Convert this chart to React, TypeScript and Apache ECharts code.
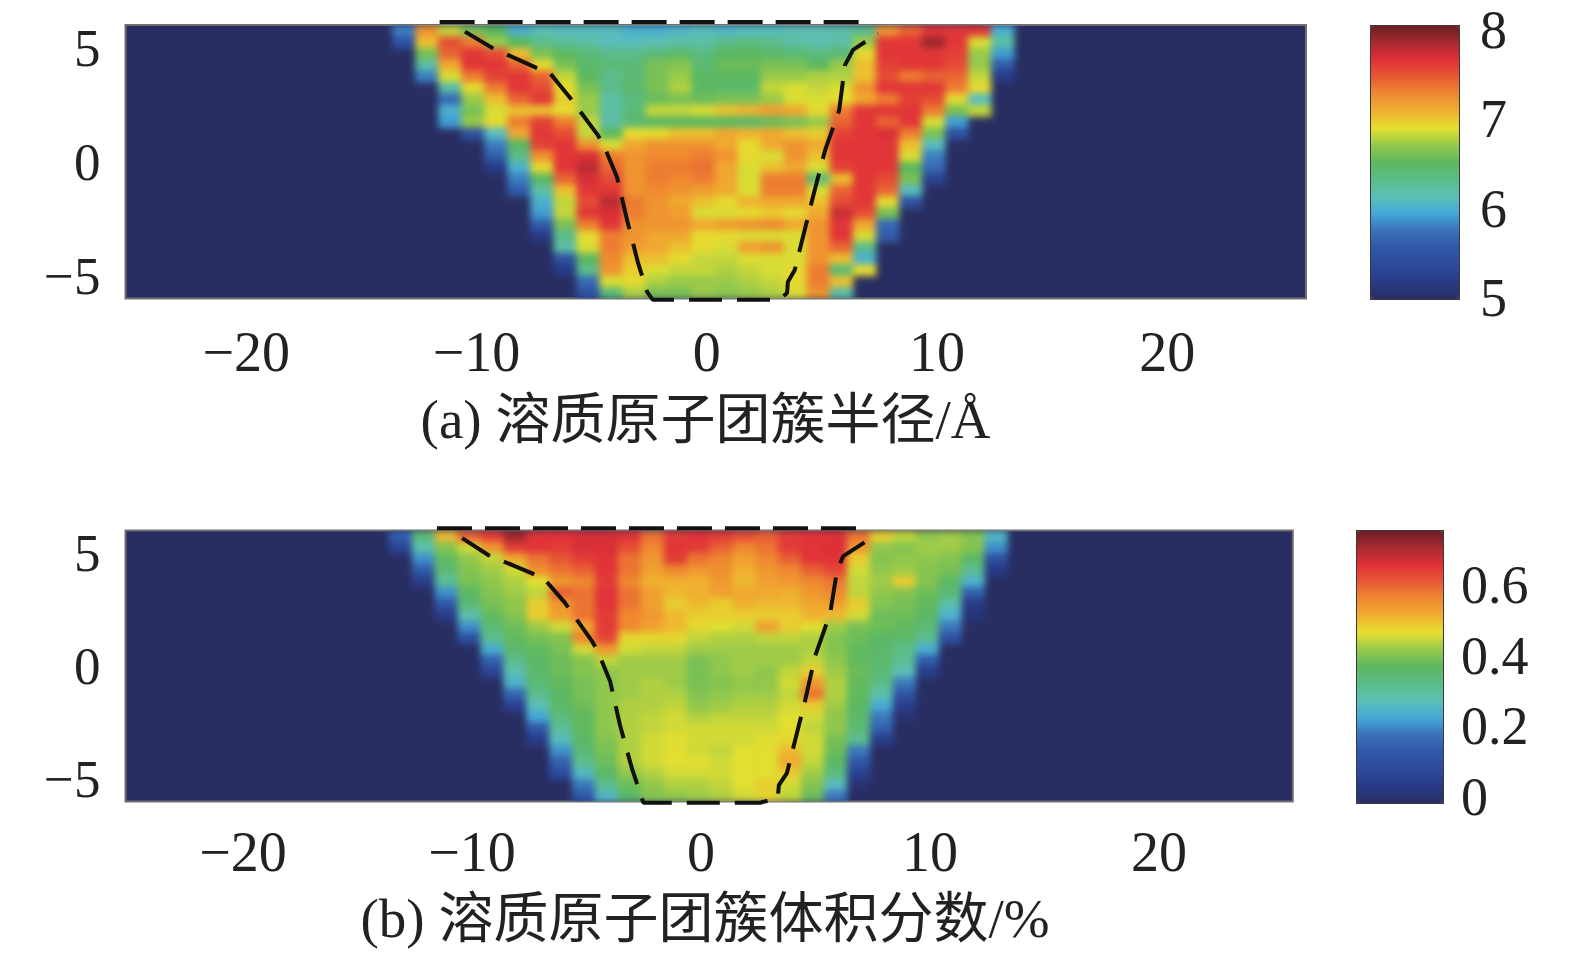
import React, { useEffect, useRef } from "react";
import * as echarts from "echarts";

// Each "left" row ends at x = -1, each "right" row starts at x = 0; rows run from y = 5.75 down to y = -5.75 in 0.5 steps.
const radiusLeft = [
  [5.8,7.2,6.8,6.6,6.5,6.0,6.15,6.1,6.1,6.1,6.0,6.0,6.05],
  [5.5,7.0,7.5,7.3,6.7,6.5,6.3,6.25,6.2,6.1,6.1,6.15,6.2],
  [6.6,7.4,7.6,7.5,7.0,6.6,6.5,6.4,6.3,6.3,6.4,6.45],
  [6.2,7.1,7.6,7.6,7.4,6.9,6.6,6.45,6.4,6.4,6.6,6.65],
  [5.8,6.85,7.3,7.55,7.6,7.4,6.8,6.5,6.3,6.4,6.6,6.7],
  [6.2,6.9,7.3,7.6,7.5,6.9,6.6,6.3,6.45,6.6,6.75],
  [5.7,6.7,7.0,7.4,7.6,6.95,6.7,6.2,6.35,6.55,6.6],
  [6.0,6.6,6.85,7.0,7.0,6.9,6.7,6.2,6.4,6.8,6.8],
  [5.9,6.7,6.9,7.3,7.55,7.3,6.8,6.2,6.4,6.5,6.5],
  [5.5,6.1,7.1,7.6,7.5,6.8,6.5,6.9,6.9,7.0],
  [5.8,6.5,7.55,7.6,7.2,6.85,7.1,7.2,7.2],
  [5.6,6.3,7.2,7.6,7.65,7.3,7.2,7.25,7.25],
  [5.2,6.0,6.9,7.6,7.75,7.4,7.2,7.3,7.3],
  [5.8,6.5,7.4,7.65,7.5,7.2,7.3,7.25],
  [5.6,6.2,7.0,7.6,7.6,7.2,7.25,7.2],
  [6.0,6.8,7.5,7.75,7.3,7.2,7.1],
  [5.9,6.8,7.6,7.65,7.3,7.2,7.15],
  [5.6,6.6,7.3,7.6,7.2,7.2,7.2],
  [5.2,6.3,6.9,7.3,7.2,7.1,7.1],
  [6.2,6.85,7.3,7.15,7.1,7.0],
  [5.5,6.5,7.25,7.0,7.0,6.9],
  [5.2,6.3,7.2,6.95,6.85,6.8],
  [5.7,6.85,6.9,6.75,6.7],
  [5.5,6.4,6.75,6.6,6.6],
];
const radiusRight = [
  [6.1,6.05,6.1,6.1,6.15,6.15,6.2,6.3,7.2,7.4,7.6,7.6,7.6,6.0],
  [6.2,6.3,6.35,6.3,6.2,6.15,6.2,6.7,7.6,7.6,7.85,7.6,6.85,6.2],
  [6.35,6.5,6.5,6.45,6.4,6.35,6.4,6.9,7.6,7.6,7.6,7.55,6.7,5.9],
  [6.4,6.55,6.55,6.6,6.6,6.5,6.7,7.0,7.55,7.6,7.6,7.5,6.7,5.6],
  [6.5,6.5,6.5,6.7,6.7,6.75,6.75,7.0,7.5,7.3,7.4,7.4,6.8,5.2],
  [6.5,6.45,6.45,6.8,6.85,6.8,6.85,7.2,7.6,7.6,7.6,7.3,6.9],
  [6.55,6.6,6.6,6.7,6.85,6.85,6.9,7.1,7.3,7.55,7.5,6.9,6.1],
  [6.85,7.0,7.05,7.15,7.1,6.9,7.3,7.6,7.6,7.6,7.3,6.6,6.8],
  [6.5,6.5,6.45,6.55,6.6,6.7,7.4,7.6,7.4,7.6,6.85,5.9],
  [7.0,7.1,7.05,7.1,7.0,6.95,7.55,7.6,7.65,7.3,6.6,5.5],
  [7.2,7.1,6.9,7.1,7.2,7.1,7.6,7.6,7.6,7.0,6.1],
  [7.3,7.2,6.9,6.85,7.2,7.0,7.6,7.6,7.6,6.85,5.8],
  [7.35,7.1,6.85,7.0,7.1,6.85,7.55,7.6,7.6,6.5,5.7],
  [7.3,7.1,6.85,7.3,7.3,6.4,7.0,7.6,7.5,6.6,5.3],
  [7.15,7.1,6.85,7.3,7.3,6.85,7.4,7.6,7.4,6.1],
  [7.0,6.9,7.05,7.1,7.1,7.0,7.5,7.6,6.9,5.5],
  [6.85,6.85,6.9,6.95,6.9,7.1,7.7,7.5,6.6],
  [7.1,7.15,7.2,7.25,7.1,7.2,7.6,7.1,5.7],
  [6.9,6.9,6.85,6.85,6.85,7.2,7.6,6.85,5.6],
  [6.9,6.85,7.15,7.2,6.85,7.2,7.4,6.3],
  [6.8,6.8,6.85,6.85,6.85,7.2,7.0,6.0],
  [6.8,6.75,6.8,6.85,6.9,7.3,6.4,6.9],
  [6.7,6.7,6.75,6.8,6.9,7.3,7.0],
  [6.7,6.65,6.7,6.75,6.85,7.2,6.2],
];
const fractionLeft = [
  [0.16,0.36,0.52,0.62,0.66,0.73,0.67,0.67,0.68,0.68,0.67,0.6,0.66],
  [0.08,0.3,0.42,0.47,0.56,0.66,0.67,0.66,0.68,0.68,0.64,0.58,0.67],
  [0.22,0.39,0.43,0.46,0.54,0.6,0.63,0.66,0.67,0.6,0.56,0.66],
  [0.15,0.36,0.42,0.44,0.47,0.57,0.6,0.62,0.67,0.6,0.55,0.58],
  [0.06,0.32,0.41,0.43,0.45,0.48,0.56,0.58,0.66,0.58,0.53,0.53],
  [0.22,0.38,0.42,0.44,0.46,0.62,0.6,0.67,0.6,0.55,0.52],
  [0.14,0.36,0.41,0.43,0.5,0.56,0.6,0.67,0.6,0.55,0.5],
  [0.06,0.3,0.39,0.42,0.5,0.55,0.6,0.66,0.58,0.56,0.52],
  [0.22,0.36,0.4,0.44,0.47,0.54,0.66,0.58,0.55,0.52],
  [0.12,0.33,0.39,0.41,0.42,0.58,0.65,0.49,0.49,0.49],
  [0.25,0.37,0.39,0.41,0.47,0.56,0.47,0.46,0.46],
  [0.16,0.33,0.38,0.4,0.42,0.46,0.44,0.44,0.44],
  [0.08,0.3,0.37,0.4,0.42,0.43,0.44,0.44,0.44],
  [0.26,0.36,0.39,0.41,0.43,0.44,0.45,0.44],
  [0.17,0.33,0.38,0.41,0.43,0.44,0.45,0.45],
  [0.07,0.29,0.37,0.4,0.43,0.45,0.45,0.46],
  [0.24,0.35,0.39,0.43,0.45,0.46,0.47],
  [0.14,0.32,0.39,0.43,0.45,0.46,0.47],
  [0.06,0.28,0.38,0.42,0.45,0.47,0.48],
  [0.22,0.36,0.41,0.45,0.47,0.48],
  [0.16,0.33,0.4,0.45,0.47,0.48],
  [0.1,0.27,0.38,0.43,0.45,0.47],
  [0.2,0.33,0.4,0.43,0.45],
  [0.14,0.27,0.37,0.42,0.43],
];
const fractionRight = [
  [0.67,0.66,0.64,0.62,0.66,0.67,0.67,0.6,0.5,0.46,0.43,0.44,0.42,0.27],
  [0.66,0.62,0.58,0.6,0.66,0.67,0.68,0.56,0.43,0.42,0.44,0.44,0.42,0.22],
  [0.6,0.58,0.55,0.58,0.62,0.67,0.67,0.5,0.42,0.43,0.43,0.42,0.38,0.12],
  [0.56,0.57,0.53,0.56,0.58,0.62,0.65,0.47,0.43,0.44,0.42,0.41,0.33,0.05],
  [0.53,0.56,0.52,0.55,0.56,0.58,0.6,0.46,0.44,0.5,0.42,0.38,0.26],
  [0.53,0.55,0.54,0.54,0.53,0.56,0.58,0.46,0.43,0.42,0.4,0.36,0.16],
  [0.52,0.5,0.53,0.52,0.52,0.54,0.55,0.5,0.42,0.41,0.39,0.3,0.05],
  [0.5,0.5,0.5,0.5,0.5,0.53,0.52,0.47,0.4,0.4,0.38,0.26,0.03],
  [0.49,0.48,0.47,0.55,0.5,0.48,0.44,0.41,0.4,0.39,0.36,0.2],
  [0.46,0.45,0.45,0.46,0.46,0.45,0.42,0.4,0.38,0.37,0.33,0.12],
  [0.44,0.44,0.44,0.44,0.44,0.45,0.42,0.39,0.37,0.34,0.25],
  [0.41,0.43,0.44,0.44,0.44,0.46,0.43,0.39,0.37,0.33,0.15],
  [0.41,0.43,0.44,0.43,0.46,0.5,0.44,0.4,0.36,0.29,0.06],
  [0.41,0.42,0.43,0.43,0.47,0.56,0.45,0.39,0.34,0.2],
  [0.42,0.43,0.44,0.44,0.46,0.6,0.45,0.39,0.3,0.13],
  [0.43,0.44,0.45,0.45,0.47,0.5,0.44,0.38,0.25,0.06],
  [0.45,0.46,0.46,0.46,0.48,0.47,0.43,0.37,0.2,0.02],
  [0.47,0.47,0.47,0.47,0.48,0.46,0.43,0.36,0.16],
  [0.47,0.47,0.47,0.48,0.49,0.47,0.41,0.33,0.06],
  [0.47,0.46,0.48,0.48,0.52,0.47,0.4,0.2],
  [0.48,0.47,0.48,0.48,0.54,0.46,0.38,0.14],
  [0.47,0.47,0.48,0.48,0.5,0.44,0.35,0.07],
  [0.45,0.46,0.48,0.5,0.47,0.42,0.28,0.02],
  [0.44,0.45,0.47,0.49,0.46,0.4,0.2],
];

const radiusContour = [[-10.5,5.71],[-9.31,4.99],[-7.37,4.11],[-6.82,3.9],[-5.93,2.8],[-4.73,1.17],[-4.44,0.64],[-3.9,-0.67],[-3.44,-2.64],[-2.98,-4.45],[-2.59,-5.71],[-2.35,-6.05],[3.18,-6.05],[3.49,-5.75],[3.52,-5.28],[3.82,-4.75],[4.61,-1.55],[5.14,0.51],[5.75,2.26],[6.0,4.24],[6.35,4.91],[7.44,5.63]];
const radiusTop = [[-11.6,6.13],[7.0,6.13]];
const fractionContour = [[-10.43,5.66],[-9.29,4.91],[-7.4,4.11],[-6.8,3.8],[-5.93,2.78],[-4.76,1.1],[-4.51,0.66],[-3.97,-0.67],[-3.54,-2.61],[-3.02,-4.52],[-2.52,-6.05],[2.58,-6.05],[3.35,-5.84],[3.4,-5.27],[3.75,-4.74],[4.55,-1.51],[4.98,0.43],[5.64,2.33],[5.94,4.23],[6.21,4.86],[7.39,5.63]];
const fractionTop = [[-11.53,6.1],[6.94,6.1]];

const xTicks = [-20, -10, 0, 10, 20];
const yTicks = [-5, 0, 5];
const radiusBarTicks = [5, 6, 7, 8];
const fractionBarTicks = [0, 0.2, 0.4, 0.6];
const titleA = "(a) 溶质原子团簇半径/Å";
const titleB = "(b) 溶质原子团簇体积分数/%";
const jet = ["#292e62","#283a86","#2d4a9c","#3058a8","#3a70b8","#44a8d8","#5cc0b8","#5cbc88","#5cb860","#94c84c","#e4e030","#f0b030","#ef8a30","#e85a34","#e03038","#a82a30","#6a1e24"];

const FONT = '"Liberation Serif","Noto Sans CJK SC",serif';
const INK = "#222222";

function cells(left: number[][], right: number[][], shift: number) {
  const out: number[][] = [];
  left.forEach((row, r) => {
    const y = 5.75 - r * 0.5;
    row.forEach((v, i) => out.push([i - row.length + shift, y, v]));
    right[r].forEach((v, i) => out.push([i + shift, y, v]));
  });
  return out;
}
const minus = (v: number) => String(v).replace("-", "\u2212");

function renderCell(_: any, api: any) {
  const x = api.value(0), y = api.value(1);
  const p = api.coord([x - 0.5, y + 0.25]);
  const q = api.coord([x + 0.5, y - 0.25]);
  return { type: "rect", shape: { x: p[0], y: p[1], width: q[0] - p[0] + 0.6, height: q[1] - p[1] + 0.6 }, style: { fill: api.visual("color") } };
}

function panel(gridIndex: number, data: number[][], contour: number[][], top: number[][]) {
  const line = (d: number[][], dash: number[]) => ({
    type: "line", xAxisIndex: gridIndex, yAxisIndex: gridIndex, data: d, symbol: "none", clip: false, z: 5,
    lineStyle: { color: "#111", width: 4, type: dash },
  });
  return [
    { type: "custom", xAxisIndex: gridIndex, yAxisIndex: gridIndex, data, renderItem: renderCell, encode: { x: 0, y: 1 }, clip: true, silent: true },
    line(contour, [33, 15]),
    line(top, [35, 13]),
  ];
}

const axisLabel = (customValues: number[], margin: number, fontSize: number) => ({
  customValues, margin, fontSize, lineHeight: fontSize, fontFamily: FONT, color: INK, formatter: (v: number) => minus(v), showMinLabel: true, showMaxLabel: true,
});
const xAxis = (gridIndex: number, min: number, max: number, margin: number) => ({
  type: "value", gridIndex, min, max, splitLine: { show: false }, axisLine: { show: false }, axisTick: { show: false },
  axisLabel: axisLabel(xTicks, margin, 56),
});
const yAxis = (gridIndex: number) => ({
  type: "value", gridIndex, min: -6, max: 6, splitLine: { show: false }, axisLine: { show: false }, axisTick: { show: false },
  axisLabel: axisLabel(yTicks, 25, 53),
});
const barX = (gridIndex: number) => ({ type: "value", gridIndex, min: 0, max: 1, show: false });
const barY = (gridIndex: number, min: number, max: number, ticks: number[], margin: number) => ({
  type: "value", gridIndex, min, max, position: "right", splitLine: { show: false }, axisLine: { show: false }, axisTick: { show: false },
  axisLabel: axisLabel(ticks, margin, 54),
});
const bar = (seriesIndex: number, min: number, max: number, left: number, top: number, w: number, h: number) => ({
  type: "continuous", seriesIndex, dimension: 2, min, max, left, top, itemWidth: w, itemHeight: h, padding: 0,
  inRange: { color: jet }, calculable: false, showLabel: false, hoverLink: false, borderColor: "#3a3a3a", borderWidth: 2,
});
const gridStyle = { show: true, backgroundColor: "#292e62", borderColor: "#6f6f6f", borderWidth: 2 };
const titleStyle = { fontSize: 55, fontFamily: FONT, color: INK, fontWeight: "normal" as const };

export default function App() {
  const ref = useRef<HTMLDivElement>(null);
  useEffect(() => {
    document.body.style.margin = "0";
    const chart = echarts.init(ref.current!, null, { renderer: "svg" });
    chart.setOption({
      animation: false,
      backgroundColor: "#ffffff",
      title: [
        { text: titleA, left: 705.5, top: 392, textAlign: "center", textStyle: titleStyle, padding: 0 },
        { text: titleB, left: 705, top: 891, textAlign: "center", textStyle: titleStyle, padding: 0 },
      ],
      grid: [
        { left: 125.5, top: 25, width: 1180.5, height: 273.5, ...gridStyle },
        { left: 125.5, top: 530.4, width: 1167.3, height: 271.2, ...gridStyle },
        { left: 1370, top: 30, width: 88, height: 268, show: false },
        { left: 1356, top: 530, width: 86, height: 266.5, show: false },
      ],
      xAxis: [xAxis(0, -25.24, 26.02, 25), xAxis(1, -25.13, 25.84, 22), barX(2), barX(3)],
      yAxis: [yAxis(0), yAxis(1), barY(2, 5, 8, radiusBarTicks, 22), barY(3, 0, 0.757, fractionBarTicks, 19)],
      visualMap: [
        bar(0, 5, 8, 1370, 25, 88, 273),
        bar(3, 0, 0.77, 1356, 530, 86, 272),
      ],
      series: [
        ...panel(0, cells(radiusLeft, radiusRight, -0.16), radiusContour, radiusTop),
        ...panel(1, cells(fractionLeft, fractionRight, -0.13), fractionContour, fractionTop),
      ],
    });
    // The reference is a soft, resampled raster: soften only the clipped groups that hold the heat cells.
    ref.current!.querySelectorAll("svg g[clip-path]").forEach((g) => {
      if (g.childElementCount > 100) (g as SVGGElement).style.filter = "blur(3.5px)";
    });
    return () => chart.dispose();
  }, []);
  return <div ref={ref} style={{ width: 1575, height: 955 }} />;
}
